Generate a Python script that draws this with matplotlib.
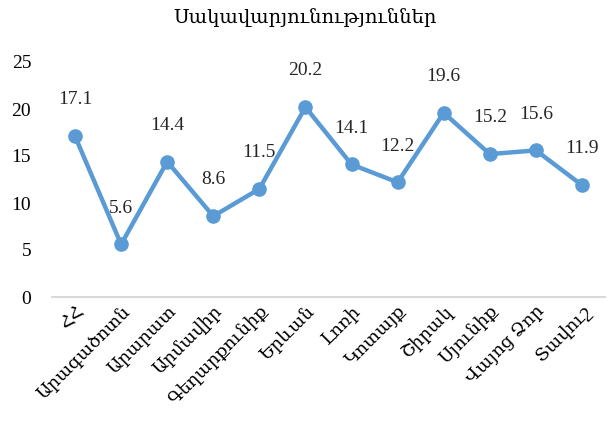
import numpy as np
import matplotlib.pyplot as plt

regions = ["ՀՀ", "Արագածոտն", "Արարատ", "Արմավիր", "Գեղարքունիք", "Երևան",
           "Լոռի", "Կոտայք", "Շիրակ", "Սյունիք", "Վայոց Ձոր", "Տավուշ"]
values = [17.1, 5.6, 14.4, 8.6, 11.5, 20.2, 14.1, 12.2, 19.6, 15.2, 15.6, 11.9]
title = "Սակավարյունություններ"

plt.rcParams['font.family'] = ['Liberation Serif', 'DejaVu Serif', 'DejaVu Sans']

fig = plt.figure(figsize=(6.11, 4.25), dpi=100)
ax = fig.add_axes([52/611, 1-297/425, (605-52)/611, (297-62)/425])

x = np.arange(len(regions))
ax.plot(x, values, color='#5B9BD5', lw=3.2, marker='o', ms=9.5)
for xi, v in zip(x, values):
    ax.annotate(f"{v}", (xi, v), xytext=(0, 20), textcoords='offset points',
                ha='center', va='bottom', fontsize=14, color='#262626')

ax.set_xlim(-0.5, 11.5)
ax.set_ylim(0, 25)
ax.set_yticks(range(0, 26, 5))
ax.set_xticks(x)
ax.set_xticklabels(regions, rotation=45, ha='right', rotation_mode='anchor', fontsize=13)
ax.tick_params(axis='y', labelsize=14, length=0, pad=15)
ax.tick_params(axis='x', length=0, pad=4)
for s in ['top', 'right', 'left']:
    ax.spines[s].set_visible(False)
ax.spines['bottom'].set_color('#d9d9d9')
ax.spines['bottom'].set_linewidth(1.5)
fig.text(0.5, 1-18/425, title, ha='center', va='center', fontsize=14)

fig.savefig("out.png")
